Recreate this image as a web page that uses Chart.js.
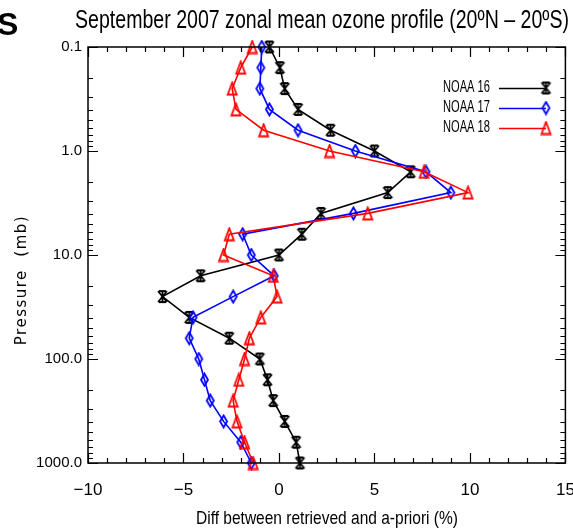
<!DOCTYPE html>
<html>
<head>
<meta charset="utf-8">
<script src="https://cdn.jsdelivr.net/npm/chart.js@4.4.1/dist/chart.umd.min.js"></script>
<style>
  html, body { margin: 0; padding: 0; background: #fff; }
  #wrap { position: relative; width: 573px; height: 532px; }
</style>
</head>
<body>
<div id="wrap"><canvas id="ozoneChart" width="573" height="532"></canvas></div>
<script>
// pressure levels (mb), top of atmosphere first
const pressure = [0.1, 0.158, 0.251, 0.398, 0.631, 1.0, 1.585, 2.512, 3.981, 6.31, 10,
  15.85, 25.12, 39.81, 63.1, 100, 158.5, 251.2, 398.1, 631, 1000];

// diff between retrieved and a-priori (%)
const noaa16 = [-0.5, 0.05, 0.3, 1.0, 2.7, 5.0, 6.9, 5.7, 2.2, 1.2, 0.0,
  -4.1, -6.1, -4.7, -2.6, -1.0, -0.6, -0.3, 0.3, 0.9, 1.1];
const noaa17 = [-0.9, -0.95, -1.0, -0.5, 1.0, 4.0, 7.7, 9.0, 3.9, -1.9, -1.45,
  -0.25, -2.4, -4.5, -4.7, -4.2, -3.9, -3.6, -2.9, -2.0, -1.45];
const noaa18 = [-1.4, -2.0, -2.45, -2.25, -0.8, 2.65, 7.6, 9.9, 4.65, -2.6, -2.9,
  -0.3, -0.1, -0.95, -1.55, -1.8, -2.1, -2.4, -2.2, -1.8, -1.35];

const seriesNames = ["NOAA 16", "NOAA 17", "NOAA 18"];
const seriesColors = ["#000000", "#0000ff", "#ff0000"];
const yTickValues = [0.1, 1, 10, 100, 1000];

const sans = "'Liberation Sans', Arial, sans-serif";

// marker glyphs drawn once, used as point styles
function makeMarker(kind, color) {
  const c = document.createElement("canvas");
  c.width = 13;
  c.height = 15;
  const g = c.getContext("2d");
  g.strokeStyle = color;
  g.lineWidth = 1.8;
  g.beginPath();
  if (kind === "star") {
    g.moveTo(2, 2); g.lineTo(11, 13);
    g.moveTo(11, 2); g.lineTo(2, 13);
    g.moveTo(3, 2); g.lineTo(10, 2);
    g.moveTo(3, 13); g.lineTo(10, 13);
    g.moveTo(6.5, 2); g.lineTo(6.5, 13);
  } else if (kind === "diamond") {
    g.moveTo(6.5, 1.5); g.lineTo(10, 7.5); g.lineTo(6.5, 13.5); g.lineTo(3, 7.5);
    g.closePath();
  } else {
    g.moveTo(6.5, 1.5); g.lineTo(11, 13.5); g.lineTo(2, 13.5);
    g.closePath();
  }
  g.stroke();
  return c;
}

const markers = [
  makeMarker("star", seriesColors[0]),
  makeMarker("diamond", seriesColors[1]),
  makeMarker("triangle", seriesColors[2]),
];

function toPoints(values) {
  return values.map((v, i) => ({ x: v, y: pressure[i] }));
}

const datasets = [noaa16, noaa17, noaa18].map((vals, i) => ({
  label: seriesNames[i],
  data: toPoints(vals),
  showLine: true,
  borderColor: seriesColors[i],
  backgroundColor: seriesColors[i],
  borderWidth: 1.6,
  pointStyle: markers[i],
  pointRadius: 6,
  tension: 0,
  clip: false,
  order: 3 - i,
}));

// text squeezed sideways to the given width (the original uses a narrow plot font)
function squeezeText(ctx, text, x, y, width) {
  const w = ctx.measureText(text).width;
  ctx.save();
  ctx.translate(x, y);
  ctx.scale(width / w, 1);
  ctx.fillText(text, 0, 0);
  ctx.restore();
}

// box, inward ticks on all four sides, titles and legend
const frame = {
  id: "frame",
  afterDraw(chart) {
    const { ctx, chartArea: a } = chart;
    const xs = chart.scales.x;
    const ys = chart.scales.y;
    ctx.save();
    ctx.strokeStyle = "#000";
    ctx.lineWidth = 1.5;
    ctx.strokeRect(a.left, a.top, a.right - a.left, a.bottom - a.top);

    ctx.lineWidth = 1.2;
    ctx.beginPath();
    for (let v = -10; v <= 15; v++) {
      const px = Math.round(xs.getPixelForValue(v)) + 0.5;
      const len = v % 5 === 0 ? 10 : 5;
      ctx.moveTo(px, a.bottom); ctx.lineTo(px, a.bottom - len);
      ctx.moveTo(px, a.top); ctx.lineTo(px, a.top + len);
    }
    for (let d = 0.1; d < 1000; d *= 10) {
      for (let m = 1; m <= 10; m++) {
        const py = Math.round(ys.getPixelForValue(d * m)) + 0.5;
        const len = (m === 1 || m === 10) ? 10 : 5;
        ctx.moveTo(a.left, py); ctx.lineTo(a.left + len, py);
        ctx.moveTo(a.right, py); ctx.lineTo(a.right - len, py);
      }
    }
    ctx.stroke();

    ctx.fillStyle = "#000";
    ctx.textBaseline = "middle";
    ctx.textAlign = "center";

    // title
    ctx.font = "25px " + sans;
    squeezeText(ctx, "September 2007 zonal mean ozone profile (20\u00baN \u2013 20\u00baS)", 322, 21, 494);

    // x axis title
    ctx.font = "19px " + sans;
    squeezeText(ctx, "Diff between retrieved and a-priori (%)", 327, 519, 262);

    // cut-off slide letter
    ctx.textAlign = "left";
    ctx.textBaseline = "alphabetic";
    ctx.font = "bold 32px " + sans;
    ctx.fillText("S", -3, 35);

    // y axis title
    ctx.save();
    ctx.translate(22, 280);
    ctx.rotate(-Math.PI / 2);
    ctx.textAlign = "center";
    ctx.textBaseline = "middle";
    ctx.font = "15px 'DejaVu Sans', sans-serif";
    ctx.letterSpacing = "1.5px";
    ctx.fillText("Pressure  (mb)", 0, 0);
    ctx.restore();

    // legend
    ctx.font = "16px " + sans;
    ctx.textAlign = "right";
    ctx.textBaseline = "middle";
    chart.data.datasets.forEach((ds, i) => {
      const y = 88 + 20 * i;
      ctx.fillStyle = "#000";
      squeezeText(ctx, ds.label, 490, y, 47);
      ctx.strokeStyle = ds.borderColor;
      ctx.lineWidth = 1.6;
      ctx.beginPath();
      ctx.moveTo(499, y + 0.5);
      ctx.lineTo(546, y + 0.5);
      ctx.stroke();
      const mk = markers[i];
      ctx.drawImage(mk, 546 - mk.width / 2, y - mk.height / 2);
    });
    ctx.restore();
  },
};

new Chart(document.getElementById("ozoneChart").getContext("2d"), {
  type: "scatter",
  data: { datasets },
  options: {
    responsive: false,
    animation: false,
    layout: { padding: { top: 47, right: 4, left: 0, bottom: 0 } },
    plugins: {
      legend: { display: false },
      tooltip: { enabled: false },
      title: { display: false },
    },
    scales: {
      x: {
        type: "linear",
        min: -10,
        max: 15,
        grid: { display: false, drawTicks: false },
        border: { display: false },
        ticks: {
          stepSize: 5,
          padding: 17,
          color: "#000",
          font: { family: sans, size: 17 },
          callback: (v) => (v < 0 ? "\u2212" + Math.abs(v) : String(v)),
        },
        afterFit: (s) => {
          s.height = 69;
          s.paddingLeft = 0;
          s.paddingRight = 0;
        },
      },
      y: {
        type: "logarithmic",
        min: 0.1,
        max: 1000,
        reverse: true,
        grid: { display: false, drawTicks: false },
        border: { display: false },
        afterBuildTicks: (s) => {
          s.ticks = yTickValues.map((v) => ({ value: v }));
        },
        ticks: {
          padding: 6,
          color: "#000",
          font: { family: sans, size: 15 },
          callback: (v) => Number(v).toFixed(1),
        },
        afterFit: (s) => {
          s.width = 88;
          s.paddingTop = 0;
          s.paddingBottom = 0;
        },
      },
    },
  },
  plugins: [frame],
});
</script>
</body>
</html>
